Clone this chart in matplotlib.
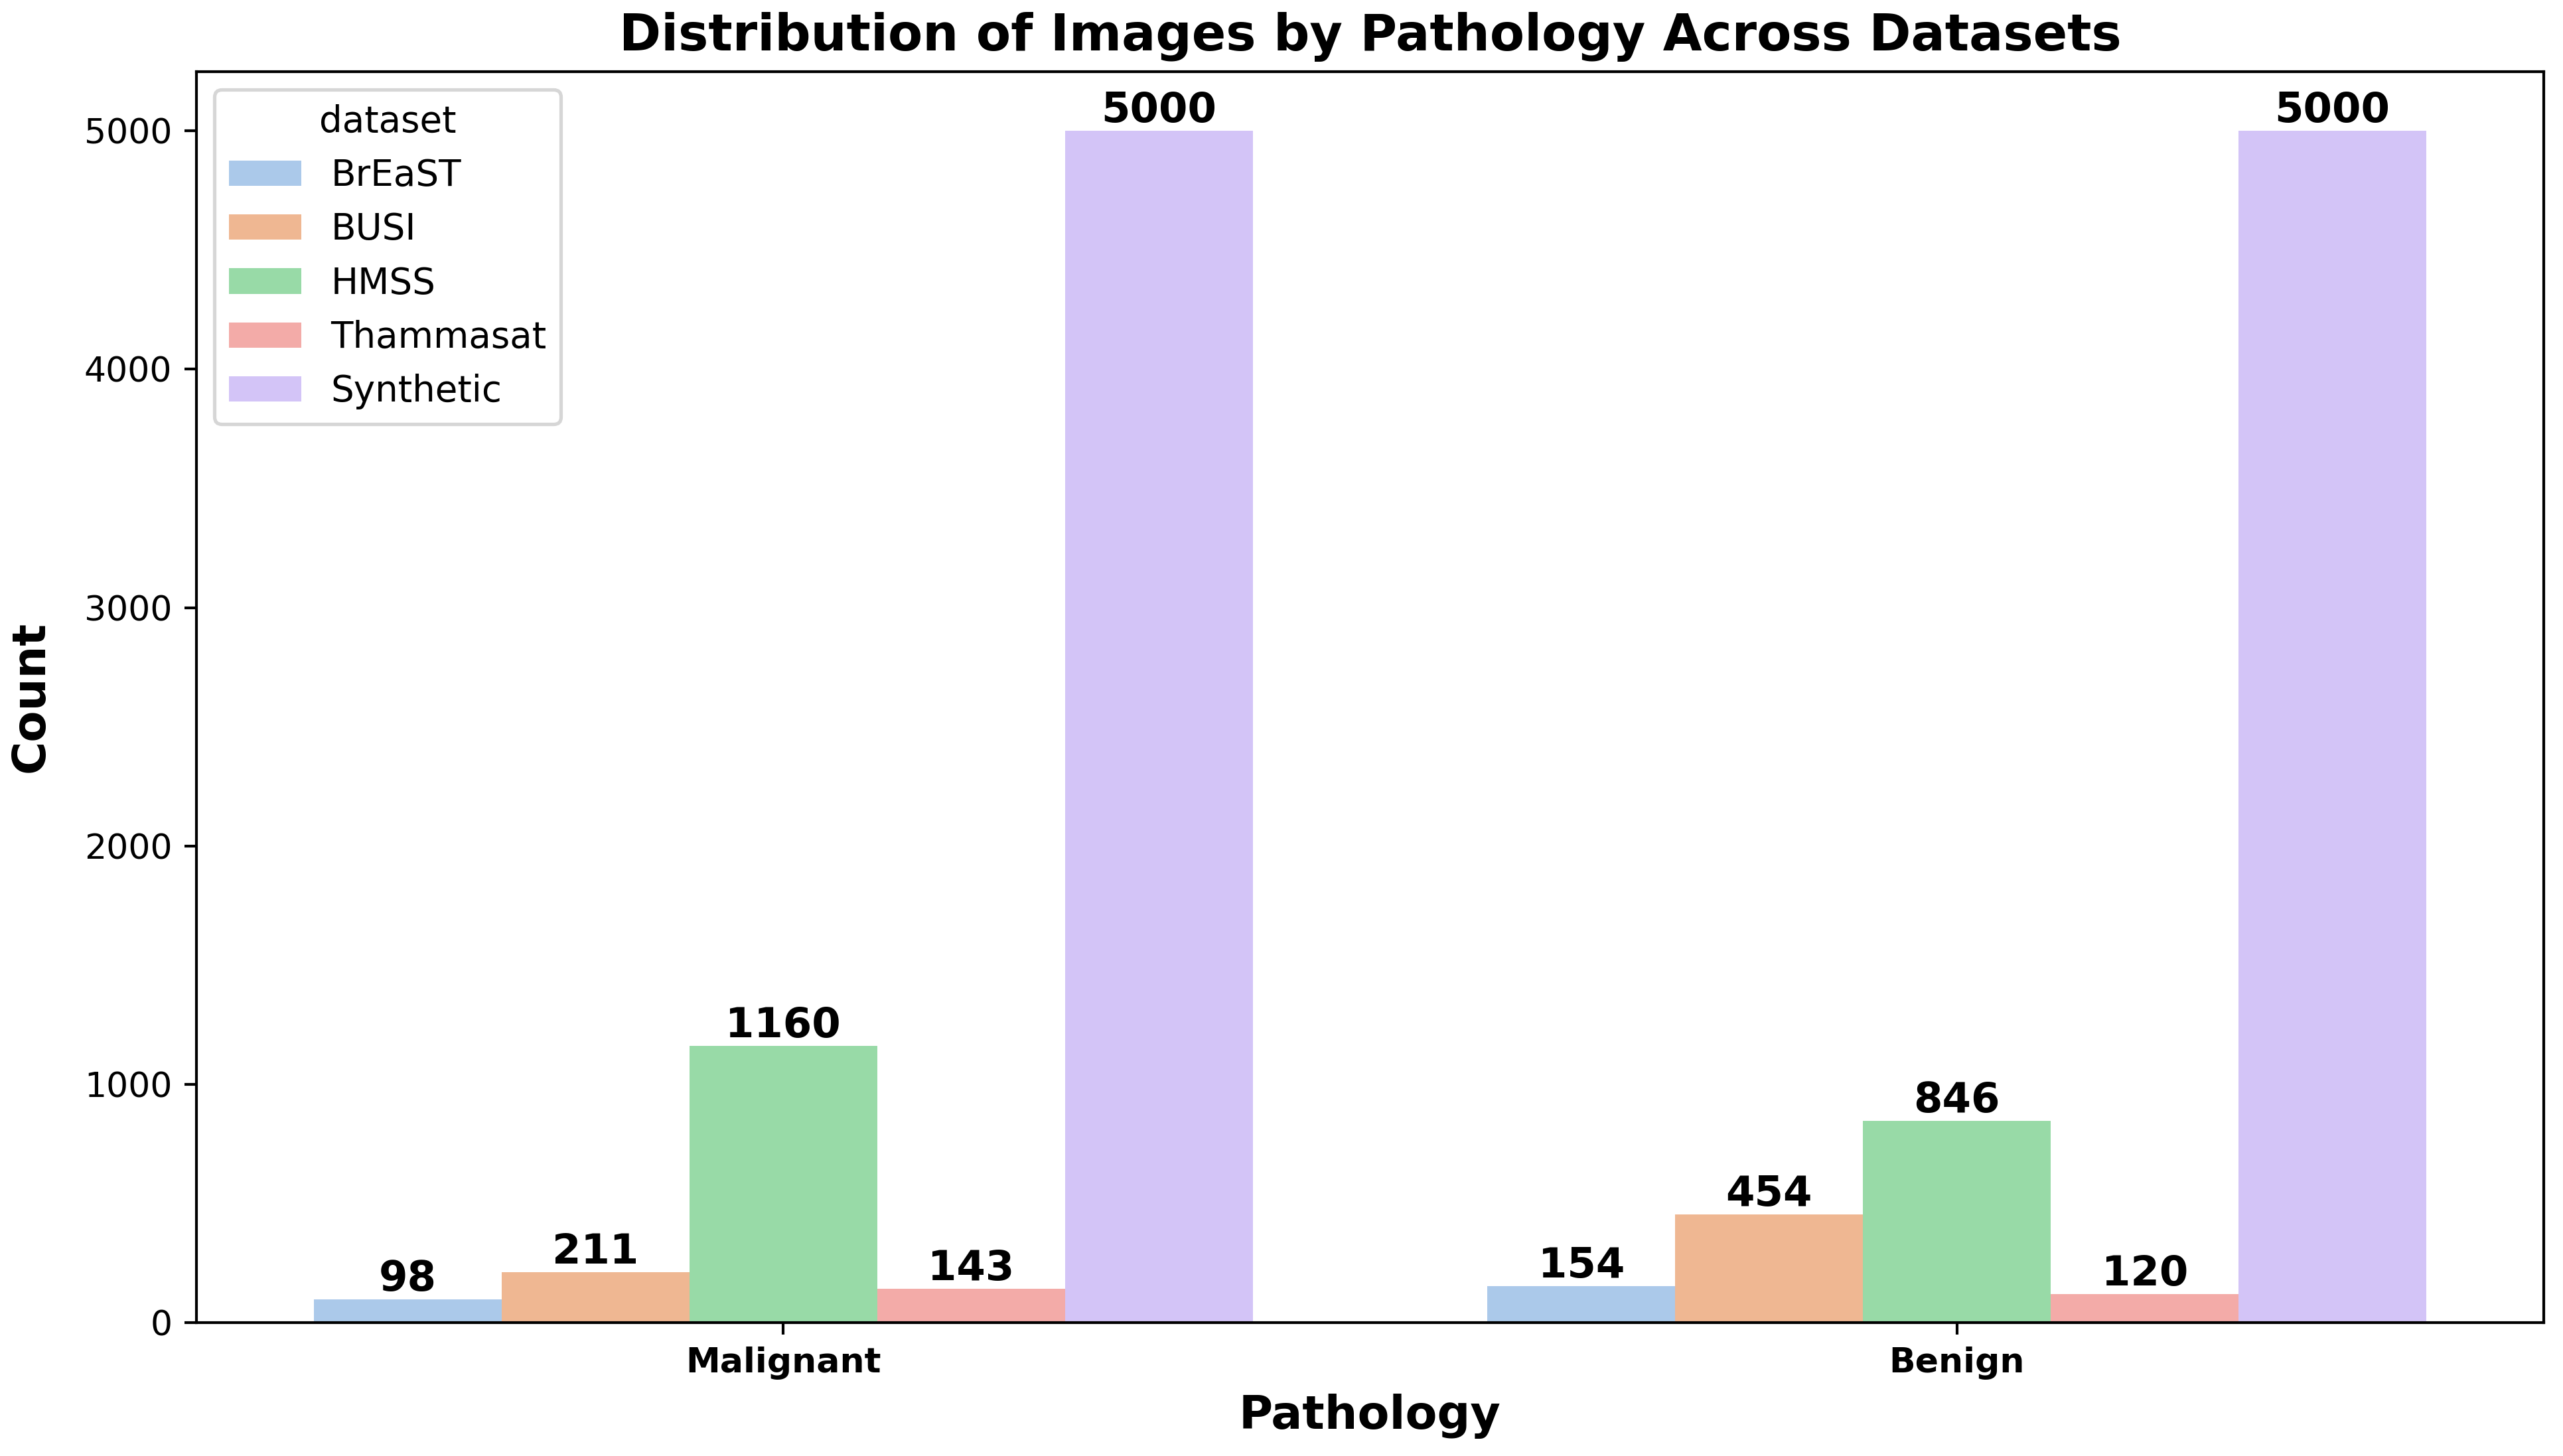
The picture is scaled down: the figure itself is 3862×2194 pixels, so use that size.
import matplotlib
matplotlib.use("Agg")
import matplotlib.pyplot as plt
import pandas as pd
import seaborn as sns

# data
pathologies = ["Malignant", "Benign"]
datasets = ["BrEaST", "BUSI", "HMSS", "Thammasat", "Synthetic"]
malignant_counts = [98, 211, 1160, 143, 5000]
benign_counts = [154, 454, 846, 120, 5000]

rows = []
for ds, m, b in zip(datasets, malignant_counts, benign_counts):
    rows.append({"pathology": "Malignant", "dataset": ds, "count": m})
    rows.append({"pathology": "Benign", "dataset": ds, "count": b})
df = pd.DataFrame(rows)

DPI = 375
fig, ax = plt.subplots(figsize=(3862 / DPI, 2194 / DPI), dpi=DPI)

sns.barplot(data=df, x="pathology", y="count", hue="dataset",
            order=pathologies, hue_order=datasets, palette="pastel", ax=ax)

for cont in ax.containers:
    ax.bar_label(cont, fontsize=12, fontweight="bold")

ax.set_title("Distribution of Images by Pathology Across Datasets",
             fontsize=14.6, fontweight="bold")
ax.set_xlabel("Pathology", fontsize=13.4, fontweight="bold")
ax.set_ylabel("Count", fontsize=13.2, fontweight="bold", labelpad=9)
for lbl in ax.get_xticklabels():
    lbl.set_fontweight("bold")
ax.legend(title="dataset", loc="upper left", fontsize=10.5, title_fontsize=10.5)

fig.subplots_adjust(left=0.0766, right=0.9925, top=0.951, bottom=0.0916)
fig.savefig("out.png", dpi=DPI)
